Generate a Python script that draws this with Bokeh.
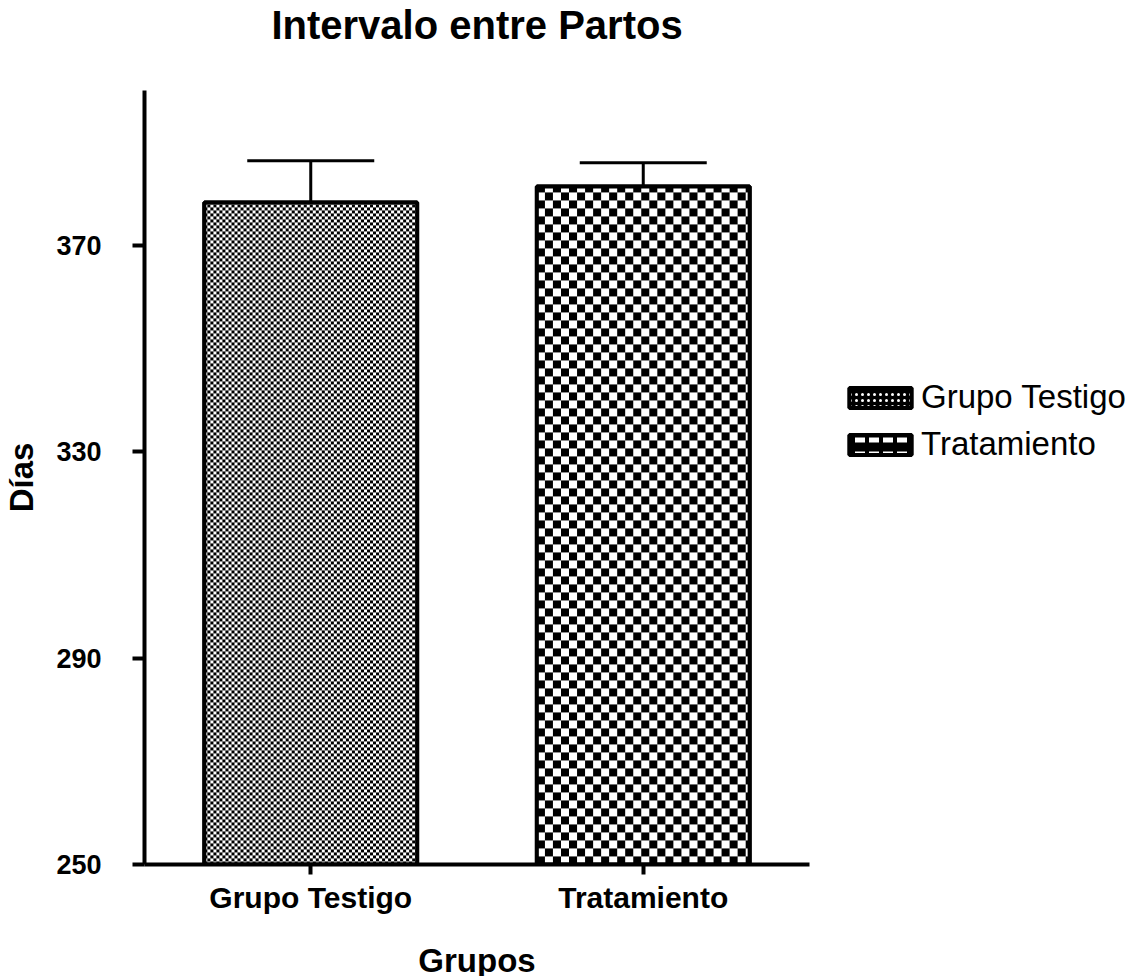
import numpy as np
from bokeh.plotting import figure
from bokeh.models import (ColumnDataSource, Range1d, FixedTicker, Whisker, TeeHead, Title)
from bokeh.embed import file_html
from bokeh.resources import INLINE

# ---- data ----
groups = ["Grupo Testigo", "Tratamiento"]
means = [378.3, 381.4]
errors = [8.1, 4.6]
y_ticks = [250, 290, 330, 370]

title_text = "Intervalo entre Partos"
x_label = "Grupos"
y_label = "Días"

FONT = "Liberation Sans"
Y0, Y1 = 250, 400
FRAME_W, FRAME_H = 665, 774
BAR_W = 0.64
xpos = [i + 1 for i in range(len(groups))]

p = figure(x_range=Range1d(0.5, len(groups) + 0.5), y_range=Range1d(Y0, Y1),
           frame_width=FRAME_W, frame_height=FRAME_H,
           output_backend="svg", toolbar_location=None, title=title_text,
           min_border_left=137, min_border_right=0, min_border_top=80,
           min_border_bottom=0)

p.background_fill_color = "white"
p.border_fill_color = "white"
p.outline_line_color = None
p.xgrid.visible = False
p.ygrid.visible = False

px_x = FRAME_W / (len(groups))
px_y = FRAME_H / (Y1 - Y0)
cells = [3, 8]
legend_hatch = ["dot", "horizontal_dash"]
legend_scale = [6, 14]
legend_weight = [3, 5]


def checker(w_px, h_px, cell):
    yy, xx = np.mgrid[0:h_px, 0:w_px]
    black = ((xx // cell) + (yy // cell)) % 2 == 0
    return np.where(black, 0xFF000000, 0xFFFFFFFF).astype(np.uint32)


for i, g in enumerate(groups):
    src = ColumnDataSource(dict(x=[xpos[i]], top=[means[i]]))
    # base bar (carries the legend entry)
    p.vbar(x="x", top="top", bottom=Y0, width=BAR_W, source=src,
           fill_color="black", line_color="black", line_width=4,
           hatch_pattern=legend_hatch[i], hatch_color="white",
           hatch_scale=legend_scale[i], hatch_weight=legend_weight[i],
           legend_label=g)
    # checker texture filling the bar
    w_px = int(round(BAR_W * px_x))
    h_px = int(round((means[i] - Y0) * px_y))
    p.image_rgba(image=[checker(w_px, h_px, cells[i])], x=xpos[i] - BAR_W / 2, y=Y0,
                 dw=BAR_W, dh=means[i] - Y0)
    # outline on top
    p.vbar(x="x", top="top", bottom=Y0, width=BAR_W, source=src,
           fill_alpha=0, line_color="black", line_width=4)

err_src = ColumnDataSource(dict(x=xpos, lower=means,
                                upper=[m + e for m, e in zip(means, errors)]))
wh = Whisker(base="x", lower="lower", upper="upper", source=err_src,
             line_color="black", line_width=3,
             upper_head=TeeHead(size=127, line_color="black", line_width=3),
             lower_head=None, level="annotation")
p.add_layout(wh)

# title (a blank spacer title sits between the real title and the frame)
p.title.text_font = FONT
p.title.text_font_size = "40px"
p.title.text_font_style = "bold"
p.title.align = "center"
p.title.text_color = "black"
p.title.standoff = 0
p.add_layout(Title(text="\u00a0", text_font_size="38px", standoff=0), "above")

# axes
for ax in (p.xaxis[0], p.yaxis[0]):
    ax.axis_line_width = 4
    ax.axis_line_color = "black"
    ax.major_tick_line_width = 4
    ax.major_tick_line_color = "black"
    ax.major_tick_in = 0
    ax.minor_tick_line_color = None
    ax.major_label_text_font = FONT
    ax.major_label_text_font_style = "bold"
    ax.major_label_text_color = "black"
    ax.axis_label_text_font = FONT
    ax.axis_label_text_font_style = "bold"
    ax.axis_label_text_font_size = "33px"
    ax.axis_label_text_color = "black"

p.yaxis.ticker = FixedTicker(ticks=y_ticks)
p.yaxis.major_label_text_font_size = "27px"
p.yaxis.major_tick_out = 12
p.yaxis.major_label_standoff = 31
p.yaxis.axis_label = y_label
p.yaxis.axis_label_standoff = 13

p.xaxis.ticker = FixedTicker(ticks=xpos)
p.xaxis.major_label_overrides = {x: g for x, g in zip(xpos, groups)}
p.xaxis.major_label_text_font_size = "30px"
p.xaxis.major_tick_out = 10
p.xaxis.major_label_standoff = 6
p.xaxis.axis_label = x_label
p.xaxis.axis_label_standoff = 25

# legend in the right panel
leg = p.legend[0]
p.center.remove(leg)
leg.location = "top_left"
leg.border_line_color = None
leg.background_fill_alpha = 0
leg.padding = 0
leg.margin = 32
leg.spacing = 9
leg.glyph_width = 78
leg.glyph_height = 25
leg.label_standoff = 2
leg.label_text_font = FONT
leg.label_text_font_size = "33px"
leg.label_text_color = "black"
leg.title = "\u00a0"
leg.title_text_font_size = "10px"
leg.title_standoff = 245
p.add_layout(leg, "right")

open("out.html", "w").write(file_html(p, INLINE))
